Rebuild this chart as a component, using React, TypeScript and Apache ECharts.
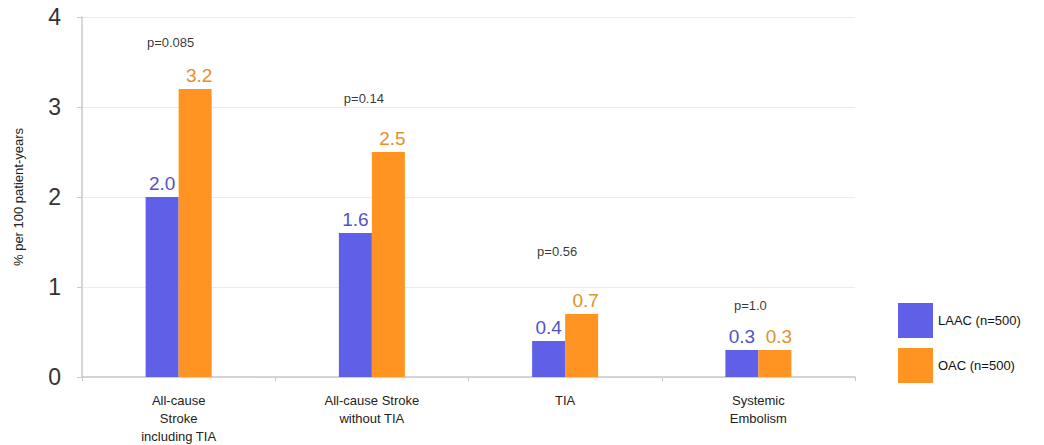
import React, { useEffect, useRef } from "react";
import * as echarts from "echarts";

const categories = [
  "All-cause\nStroke\nincluding TIA",
  "All-cause Stroke\nwithout TIA",
  "TIA",
  "Systemic\nEmbolism",
];
const laacValues = [2.0, 1.6, 0.4, 0.3];
const oacValues = [3.2, 2.5, 0.7, 0.3];
const pLabels = ["p=0.085", "p=0.14", "p=0.56", "p=1.0"];
const pLabelY = [3.72, 3.09, 1.4, 0.79];
const yTicks = [0, 1, 2, 3, 4];

const FONT = "'Liberation Sans', Arial, sans-serif";

export default function App() {
  const ref = useRef<HTMLDivElement>(null);
  useEffect(() => {
    if (!ref.current) return;
    document.body.style.margin = "0";
    const chart = echarts.init(ref.current, undefined, { renderer: "svg" });
    chart.setOption({
      animation: false,
      backgroundColor: "#ffffff",
      grid: { left: 82, right: 189, top: 17, bottom: 67 },
      legend: {
        orient: "vertical",
        left: 893,
        top: 298,
        itemWidth: 35,
        itemHeight: 35,
        itemGap: 10,
        icon: "rect",
        textStyle: { fontFamily: FONT, fontSize: 13, color: "#111" },
        data: ["LAAC (n=500)", "OAC (n=500)"],
      },
      xAxis: {
        type: "category",
        data: categories,
        axisLine: { lineStyle: { color: "#c8c8c8", width: 1.5 } },
        axisTick: { show: true, length: 4, lineStyle: { color: "#c8c8c8" } },
        axisLabel: {
          fontFamily: FONT,
          fontSize: 13,
          color: "#222",
          lineHeight: 18,
          margin: 14,
          interval: 0,
        },
      },
      yAxis: {
        type: "value",
        min: yTicks[0],
        max: yTicks[yTicks.length - 1],
        interval: 1,
        name: "% per 100 patient-years",
        nameLocation: "middle",
        nameGap: 57,
        nameTextStyle: { fontFamily: FONT, fontSize: 13, color: "#222" },
        axisLine: { show: true, lineStyle: { color: "#c8c8c8", width: 1.5 } },
        axisTick: { show: true, length: 5, lineStyle: { color: "#c8c8c8" } },
        axisLabel: {
          fontFamily: FONT,
          fontSize: 23,
          color: "#333",
          margin: 21,
        },
        splitLine: { lineStyle: { color: "#ececec" } },
      },
      series: [
        {
          name: "LAAC (n=500)",
          type: "bar",
          data: laacValues,
          barWidth: 33,
          barGap: "0%",
          itemStyle: { color: "#5F5FE8" },
          label: {
            show: true,
            position: "top",
            distance: 4,
            formatter: (p: any) => p.value.toFixed(1),
            fontFamily: FONT,
            fontSize: 19,
            color: "#5252C8",
          },
        },
        {
          name: "OAC (n=500)",
          type: "bar",
          data: oacValues,
          barWidth: 33,
          barGap: "0%",
          itemStyle: { color: "#FF9422" },
          label: {
            show: true,
            position: "top",
            distance: 4,
            offset: [4, 0],
            formatter: (p: any) => p.value.toFixed(1),
            fontFamily: FONT,
            fontSize: 19,
            color: "#E39128",
          },
        },
        {
          name: "p",
          type: "scatter",
          data: pLabelY.map((y, i) => [i, y]),
          symbolSize: 0,
          silent: true,
          label: {
            show: true,
            position: "inside",
            offset: [-8, 0],
            formatter: (p: any) => pLabels[p.dataIndex],
            fontFamily: FONT,
            fontSize: 13,
            color: "#000",
          },
        },
      ],
    });
    return () => chart.dispose();
  }, []);
  return <div ref={ref} style={{ width: 1044, height: 445 }} />;
}
